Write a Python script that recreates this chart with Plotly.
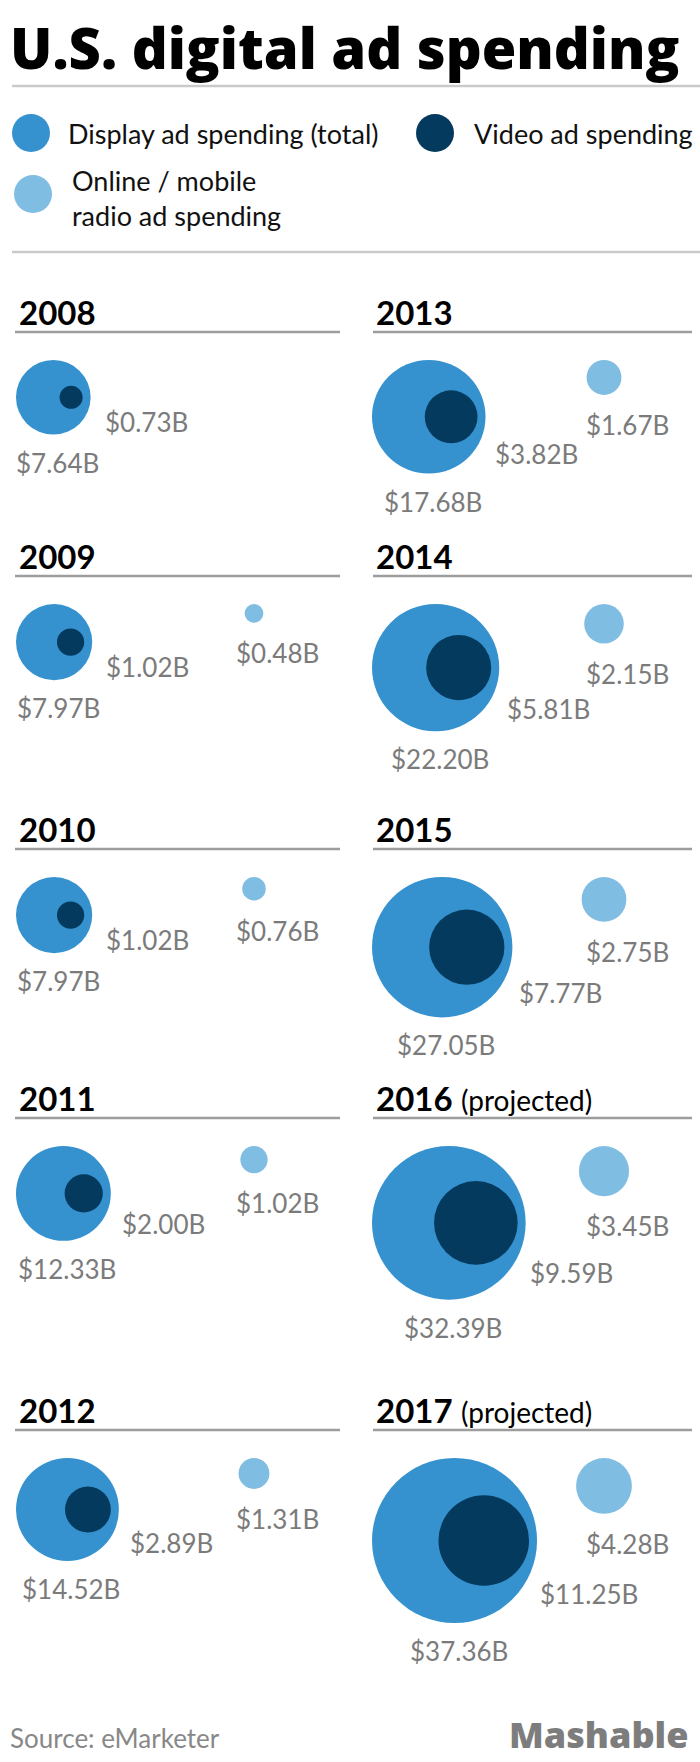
"""U.S. digital ad spending, 2008-2017, as nested bubbles."""
import numpy as np
import plotly.graph_objects as go

# Data (billions of dollars)
years = [2008, 2009, 2010, 2011, 2012, 2013, 2014, 2015, 2016, 2017]
projected = [False, False, False, False, False, False, False, False, True, True]
display_spend = [7.64, 7.97, 7.97, 12.33, 14.52, 17.68, 22.20, 27.05, 32.39, 37.36]
video_spend = [0.73, 1.02, 1.02, 2.00, 2.89, 3.82, 5.81, 7.77, 9.59, 11.25]
radio_spend = [None, 0.48, 0.76, 1.02, 1.31, 1.67, 2.15, 2.75, 3.45, 4.28]

# Colours
DISPLAY_C = '#3592cf'
VIDEO_C = '#053a5f'
RADIO_C = '#80bde2'
LABEL_C = '#7b7b7b'

W, H = 700, 1762
K = 13.5  # px of radius per sqrt($B), so bubble area follows spending

# Layout of the 5x2 grid of panels
col_left = [16, 372]          # left edge of the big bubble
col_head_x = [17, 374]        # year heading
col_line = [(15, 340), (373, 692)]
col_radio_x = [254, 604]
row_line_y = [332, 576, 849, 1118, 1430]

FONT = 'Lato, Roboto, sans-serif'


def radius(v):
    return K * np.sqrt(v)


fig = go.Figure()
shapes = []
annotations = []


def label(x, y, text, size=26, color=LABEL_C, xanchor='left', weight=None, family=FONT):
    f = dict(family=family, size=size, color=color)
    if weight:
        f['weight'] = weight
    annotations.append(dict(x=x, y=y, xref='x', yref='y', text=text,
                            showarrow=False, xanchor=xanchor, yanchor='middle',
                            align='left', font=f))


dx, dy, dsize = [], [], []
vx, vy, vsize = [], [], []
rx, ry, rsize = [], [], []

for i, year in enumerate(years):
    col, row = i // 5, i % 5
    line_y = row_line_y[row]

    # heading + rule
    head = '<b>%d</b>' % year
    if projected[i]:
        head += ' <span style="font-size:28px;font-weight:normal">(projected)</span>'
    label(col_head_x[col], line_y - 20, head, size=33, color='#000000')
    shapes.append(dict(type='line', xref='x', yref='y',
                       x0=col_line[col][0], x1=col_line[col][1], y0=line_y, y1=line_y,
                       line=dict(color='#9d9d9d', width=2.5)))

    # display (total) bubble
    r = radius(display_spend[i])
    cx = col_left[col] + r
    cy = line_y + 28 + r
    dx.append(cx)
    dy.append(cy)
    dsize.append(2 * r)
    label(cx + 4, cy + r + 28, '$%.2fB' % display_spend[i], xanchor='center')

    # video bubble, tucked in at the right of the display bubble
    rv = radius(video_spend[i])
    vx.append(cx + r - rv - 8)
    vy.append(cy)
    vsize.append(2 * rv)
    label(cx + 0.76 * r + 21, cy + 0.65 * r, '$%.2fB' % video_spend[i])

    # online / mobile radio bubble
    if radio_spend[i] is not None:
        rr = radius(radio_spend[i])
        crx = col_radio_x[col]
        cry = line_y + 28 + rr
        rx.append(crx)
        ry.append(cry)
        rsize.append(2 * rr)
        label(crx - 20, cry + rr + 30, '$%.2fB' % radio_spend[i])

for xs, ys, ss, c in [(dx, dy, dsize, DISPLAY_C), (vx, vy, vsize, VIDEO_C), (rx, ry, rsize, RADIO_C)]:
    fig.add_trace(go.Scatter(x=xs, y=ys, mode='markers', hoverinfo='skip',
                             marker=dict(size=ss, color=c, opacity=1, line=dict(width=0))))

# Legend
fig.add_trace(go.Scatter(x=[31, 435, 33], y=[133, 133, 194], mode='markers', hoverinfo='skip',
                         marker=dict(size=38, color=[DISPLAY_C, VIDEO_C, RADIO_C],
                                     opacity=1, line=dict(width=0))))
label(66, 133, 'Display ad spending (total)', size=27, color='#111111')
label(472, 133, 'Video ad spending', size=27, color='#111111')
label(70, 198, 'Online / mobile<br>radio ad spending', size=27, color='#111111')

# Title and separators
label(8, 47, 'U.S. digital ad spending', size=56, color='#000000', weight=800,
      family='Open Sans, Noto Sans, sans-serif')
for y in [86, 252]:
    shapes.append(dict(type='line', xref='x', yref='y', x0=12, x1=700, y0=y, y1=y,
                       line=dict(color='#cacaca', width=2.5)))

# Footer
label(8, 1738, 'Source: eMarketer', size=26, color='#888888')
label(690, 1734, 'Mashable', size=36, color='#7d7d7d', xanchor='right', weight=800,
      family='Open Sans, Noto Sans, sans-serif')

fig.update_layout(width=W, height=H, margin=dict(l=0, r=0, t=0, b=0),
                  paper_bgcolor='white', plot_bgcolor='white', showlegend=False,
                  shapes=shapes, annotations=annotations)
fig.update_xaxes(range=[0, W], visible=False, fixedrange=True)
fig.update_yaxes(range=[H, 0], visible=False, fixedrange=True)

fig.write_html('out.html', config={'displayModeBar': False},
               post_script="document.body.style.margin='0';")
